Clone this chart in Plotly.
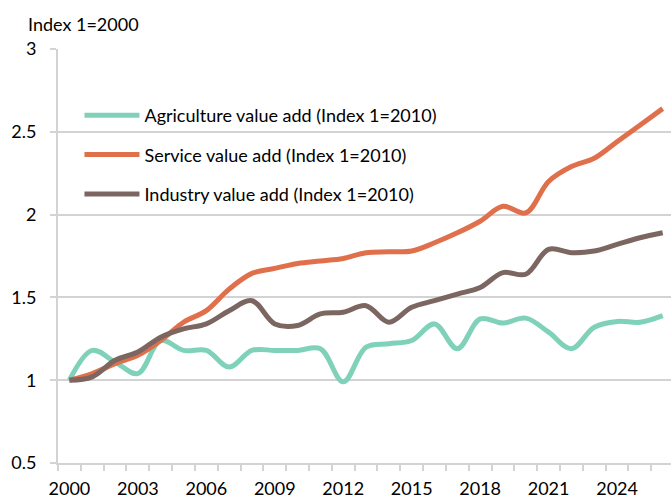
import plotly.graph_objects as go

# Value-added indices by sector, 2000-2026
years = list(range(2000, 2027))
agriculture = [1.00, 1.18, 1.11, 1.04, 1.24, 1.18, 1.18, 1.08, 1.18, 1.18,
               1.18, 1.19, 0.99, 1.20, 1.22, 1.24, 1.34, 1.19, 1.37, 1.345,
               1.375, 1.29, 1.19, 1.32, 1.355, 1.35, 1.39]
service = [1.00, 1.04, 1.10, 1.15, 1.24, 1.35, 1.42, 1.55, 1.645, 1.675,
           1.705, 1.72, 1.735, 1.77, 1.775, 1.78, 1.83, 1.89, 1.96, 2.05,
           2.01, 2.20, 2.29, 2.34, 2.44, 2.54, 2.64]
industry = [1.00, 1.02, 1.12, 1.17, 1.26, 1.31, 1.34, 1.42, 1.48, 1.34,
            1.33, 1.40, 1.41, 1.45, 1.35, 1.44, 1.48, 1.52, 1.56, 1.65,
            1.64, 1.79, 1.77, 1.78, 1.82, 1.86, 1.89]

series_names = ["Agriculture value add (Index 1=2010)",
                "Service value add (Index 1=2010)",
                "Industry value add (Index 1=2010)"]
series_colors = ["#7fd2b9", "#e0704b", "#7b6661"]

x_tick_years = list(range(2000, 2025, 3))
y_ticks = [0.5, 1, 1.5, 2, 2.5, 3]
y_tick_text = ["0.5", "1", "1.5", "2", "2.5", "3"]

FONT = "Lato, Carlito, Calibri, sans-serif"
GRID = "#d3d3d3"

fig = go.Figure()
for i, (name, vals, col) in enumerate(zip(series_names,
                                          [agriculture, service, industry],
                                          series_colors)):
    fig.add_trace(go.Scatter(
        x=years, y=vals, name=name, mode="lines",
        line=dict(color=col, width=5, shape="spline", smoothing=1.0),
        legendgroup=f"g{i}",
    ))

fig.update_layout(
    width=671, height=498,
    margin=dict(l=57.7, r=0, t=49, b=34.7),
    paper_bgcolor="white", plot_bgcolor="white",
    font=dict(family=FONT, size=18, color="#000000"),
    showlegend=True,
    legend=dict(
        x=0.035, y=0.884, xanchor="left", yanchor="top",
        bgcolor="rgba(0,0,0,0)", borderwidth=0,
        font=dict(family=FONT, size=18, color="#000000"),
        tracegroupgap=13, itemwidth=55, traceorder="grouped",
    ),
    xaxis=dict(
        range=[1999.5, 2026.364],
        tickmode="array", tickvals=x_tick_years,
        ticktext=[str(y) for y in x_tick_years],
        ticks="", showgrid=False, zeroline=False,
        showline=True, linecolor=GRID, linewidth=2,
        minor=dict(ticks="outside", tick0=1999.5, dtick=1, ticklen=6,
                   tickcolor=GRID, tickwidth=2, showgrid=False),
        tickfont=dict(family=FONT, size=18),
        ticklabelstandoff=8, automargin=False,
    ),
    yaxis=dict(
        range=[0.5, 3],
        tickmode="array", tickvals=y_ticks, ticktext=y_tick_text,
        ticks="outside", ticklen=6, tickcolor=GRID, tickwidth=2,
        showgrid=True, gridcolor=GRID, gridwidth=2, zeroline=False,
        showline=True, linecolor=GRID, linewidth=2,
        tickfont=dict(family=FONT, size=18),
        ticklabelstandoff=10, automargin=False,
    ),
    annotations=[dict(
        text="Index 1=2000", xref="paper", yref="paper",
        x=-0.053, y=1.0, xanchor="left", yanchor="bottom", yshift=12,
        showarrow=False, font=dict(family=FONT, size=18, color="#000000"),
    )],
)

fig.write_html("out.html")
